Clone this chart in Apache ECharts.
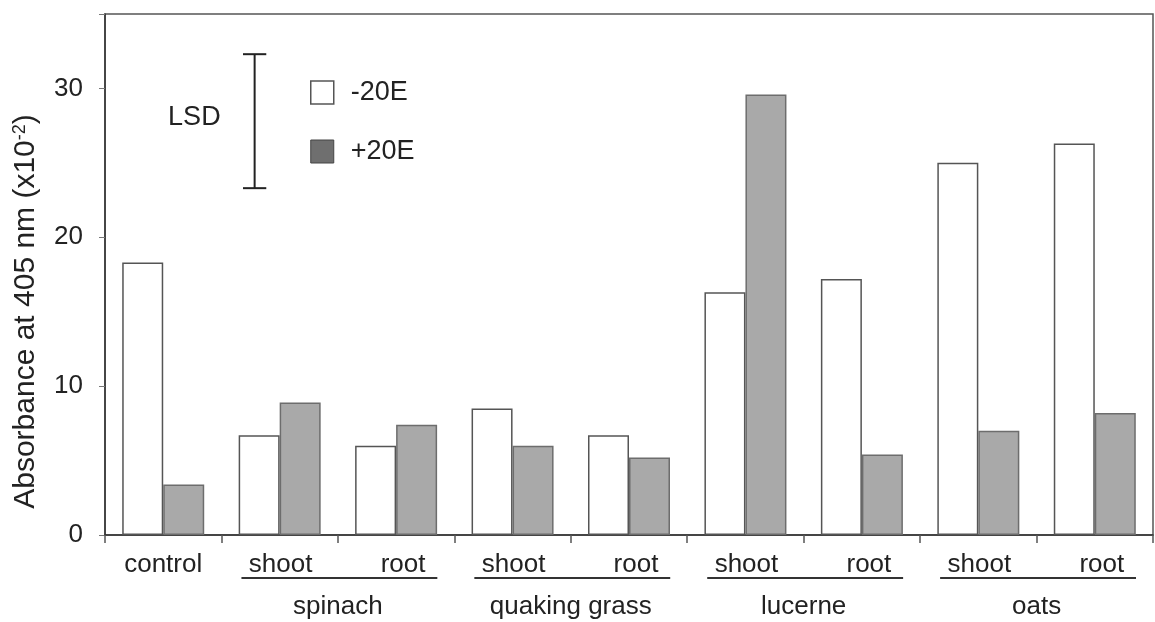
<!DOCTYPE html>
<html>
<head>
<meta charset="utf-8">
<title>Absorbance at 405 nm</title>
<script src="https://cdn.jsdelivr.net/npm/echarts@6/dist/echarts.min.js"></script>
<style>
  html, body { margin: 0; padding: 0; background: #fff; }
  #chart { width: 1155px; height: 622px; }
</style>
</head>
<body>
<div id="chart"></div>
<script>
// Sample groups: the control, then shoot/root extracts for each plant
const plants = ['spinach', 'quaking grass', 'lucerne', 'oats'];
const parts = ['shoot', 'root'];
const categories = ['control'];
plants.forEach(p => parts.forEach(t => categories.push(p + '|' + t)));

// Absorbance values (x10^-2) without / with 20-hydroxyecdysone
const minus20E = [18.3, 6.7, 6.0, 8.5, 6.7, 16.3, 17.2, 25.0, 26.3];
const plus20E = [3.4, 8.9, 7.4, 6.0, 5.2, 29.6, 5.4, 7.0, 8.2];

// Least significant difference bar: [category index, low, high]
const lsdBar = [1, 23.3, 32.3];

const yTicks = [0, 10, 20, 30];
const seriesNames = ['-20E', '+20E'];

const FONT = '"Liberation Sans", Arial, Helvetica, sans-serif';
const INK = '#222';

const chart = echarts.init(document.getElementById('chart'), null, { renderer: 'canvas' });

const option = {
  animation: false,
  backgroundColor: '#fff',
  textStyle: { fontFamily: FONT, color: INK },
  grid: {
    left: 105, right: 2, top: 14, bottom: 87,
    show: true, borderColor: '#555', borderWidth: 1.5, backgroundColor: 'transparent'
  },
  legend: {
    orient: 'vertical',
    left: 305, top: 74,
    itemWidth: 23, itemHeight: 23, itemGap: 32,
    selectedMode: false,
    icon: 'rect',
    textStyle: { fontFamily: FONT, fontSize: 27, color: INK, lineHeight: 23, padding: [0, 0, 0, 12] },
    data: [
      { name: seriesNames[0], itemStyle: { color: '#fff', borderColor: '#555', borderWidth: 1.5 } },
      { name: seriesNames[1], itemStyle: { color: '#6f6f6f', borderColor: '#444', borderWidth: 1 } }
    ]
  },
  xAxis: {
    type: 'category',
    data: categories,
    boundaryGap: true,
    axisLine: { lineStyle: { color: '#333', width: 1.5 } },
    axisTick: { show: true, inside: false, length: 8, alignWithLabel: false, interval: 0,
                lineStyle: { color: '#555', width: 1.5 } },
    axisLabel: {
      interval: 0, margin: 17,
      fontFamily: FONT, fontSize: 26, color: INK,
      formatter: v => {
        const bits = v.split('|');
        if (bits.length === 1) return bits[0];
        return bits[1] === 'root' ? '{r|' + bits[1] + '}' : '{s|' + bits[1] + '}';
      },
      rich: {
        s: { fontFamily: FONT, fontSize: 26, color: INK, padding: [0, 0, 0, 2] },
        r: { fontFamily: FONT, fontSize: 26, color: INK, padding: [0, 0, 0, 14] }
      }
    },
    splitLine: { show: false }
  },
  yAxis: {
    type: 'value',
    min: 0, max: 35, interval: 10,
    axisLine: { show: true, lineStyle: { color: '#333', width: 1.5 } },
    axisTick: { show: true, inside: false, length: 6, lineStyle: { color: '#777', width: 1 } },
    axisLabel: {
      margin: 22, fontFamily: FONT, fontSize: 26, color: INK,
      formatter: v => (yTicks.indexOf(v) >= 0 ? String(v) : '')
    },
    splitLine: { show: false },
    name: 'Absorbance at 405 nm (x10{sup|-2})',
    nameLocation: 'middle',
    nameGap: 64,
    nameTextStyle: {
      fontFamily: FONT, fontSize: 30, color: INK,
      padding: [0, 74, 0, 0],
      rich: {
        sup: { fontFamily: FONT, fontSize: 18, color: INK, verticalAlign: 'top', padding: [0, 0, 12, 0] }
      }
    }
  },
  series: [
    {
      name: seriesNames[0],
      type: 'bar',
      data: minus20E,
      barWidth: 41,
      barGap: '0%',
      itemStyle: { color: '#fff', borderColor: '#555', borderWidth: 1.5 }
    },
    {
      name: seriesNames[1],
      type: 'bar',
      data: plus20E,
      barWidth: 41,
      barGap: '0%',
      itemStyle: { color: '#a9a9a9', borderColor: '#6d6d6d', borderWidth: 1.5 }
    },
    {
      name: 'LSD',
      type: 'custom',
      data: [lsdBar],
      encode: { x: 0, y: [1, 2] },
      z: 5,
      renderItem: (params, api) => {
        const lo = api.coord([api.value(0), api.value(1)]);
        const hi = api.coord([api.value(0), api.value(2)]);
        const bw = api.size([1, 0])[0];
        const x = lo[0] - 0.215 * bw;
        const cap = 0.1 * bw;
        const style = { stroke: '#222', lineWidth: 2 };
        return {
          type: 'group',
          children: [
            { type: 'line', shape: { x1: x, y1: lo[1], x2: x, y2: hi[1] }, style },
            { type: 'line', shape: { x1: x - cap, y1: lo[1], x2: x + cap, y2: lo[1] }, style },
            { type: 'line', shape: { x1: x - cap, y1: hi[1], x2: x + cap, y2: hi[1] }, style },
            { type: 'text', style: {
                text: 'LSD', x: x - 34, y: (lo[1] + hi[1]) / 2 - 4,
                align: 'right', verticalAlign: 'middle',
                fontFamily: FONT, fontSize: 27, fill: INK } }
          ]
        };
      }
    }
  ]
};

chart.setOption(option);

// Plant names centred under each shoot/root pair, with an underline spanning the pair
function drawGroups() {
  const c0 = chart.convertToPixel({ xAxisIndex: 0 }, 0);
  const c1 = chart.convertToPixel({ xAxisIndex: 0 }, 1);
  const bw = c1 - c0;
  const base = chart.convertToPixel({ yAxisIndex: 0 }, 0);
  const elements = [];
  plants.forEach((p, i) => {
    const a = chart.convertToPixel({ xAxisIndex: 0 }, 1 + i * 2);
    const b = chart.convertToPixel({ xAxisIndex: 0 }, 2 + i * 2);
    elements.push({
      type: 'line',
      shape: { x1: a - bw / 2 + 20, y1: base + 43, x2: b + bw / 2 - 17, y2: base + 43 },
      style: { stroke: '#333', lineWidth: 2 }
    });
    elements.push({
      type: 'text',
      x: (a + b) / 2, y: base + 72,
      style: { text: p, align: 'center', verticalAlign: 'middle',
               fontFamily: FONT, fontSize: 26, fill: INK }
    });
  });
  chart.setOption({ graphic: { elements } });
}
drawGroups();
</script>
</body>
</html>
